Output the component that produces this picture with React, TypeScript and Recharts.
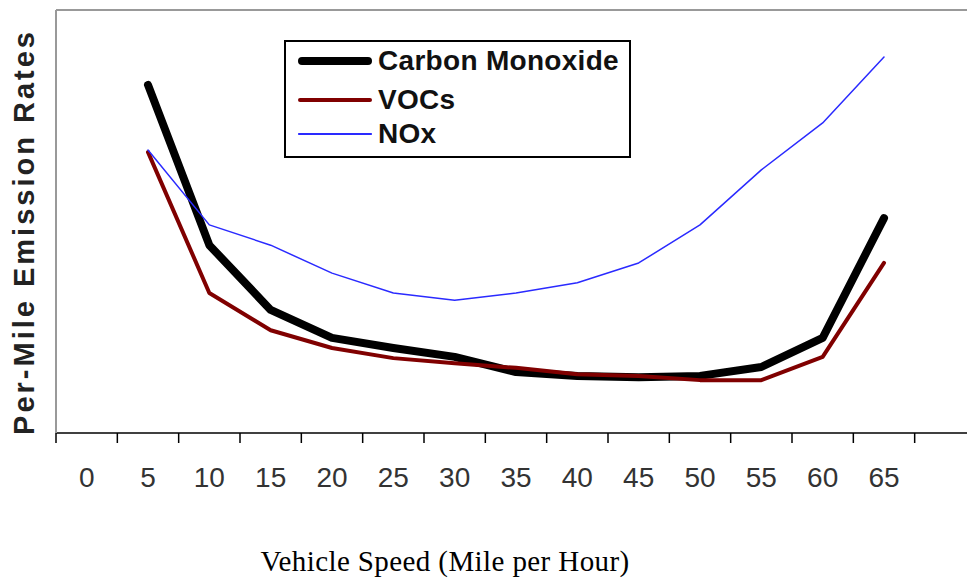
import React from 'react';
import { LineChart, Line, XAxis, YAxis, ReferenceLine } from 'recharts';

// speeds (mph) on the category axis, last slot left empty
const speeds = ['0', '5', '10', '15', '20', '25', '30', '35', '40', '45', '50', '55', '60', '65', ''];

// relative per-mile emission rates (0-100 scale)
const carbonMonoxide = [null, 82.3, 44.4, 29.1, 22.5, 20.1, 18.0, 14.4, 13.5, 13.2, 13.5, 15.6, 22.5, 50.8, null];
const vocs = [null, 66.4, 33.1, 24.3, 20.1, 17.7, 16.5, 15.4, 13.9, 13.5, 12.5, 12.5, 18.0, 40.2, null];
const nox = [null, 66.9, 49.2, 44.4, 37.8, 33.1, 31.4, 33.1, 35.5, 40.2, 49.2, 62.2, 73.3, 88.9, null];

const seriesInfo = [
  { key: 'co', name: 'Carbon Monoxide', color: '#000000', width: 8 },
  { key: 'voc', name: 'VOCs', color: '#800000', width: 4 },
  { key: 'nox', name: 'NOx', color: '#2a2aff', width: 1.5 },
];

const data = speeds.map((s, i) => ({
  speed: s,
  co: carbonMonoxide[i],
  voc: vocs[i],
  nox: nox[i],
}));

const sans = '"Liberation Sans", Arial, sans-serif';
const plotWidth = 920;
const halfBand = plotWidth / speeds.length / 2;

// label centred in its slot, tick mark on the slot's left edge
const SpeedTick = (props: any) => {
  const { x, y, payload } = props;
  return (
    <g>
      <line x1={x - halfBand} x2={x - halfBand} y1={y - 34} y2={y - 24} stroke="#000" strokeWidth={1.5} />
      <text x={x} y={y} dy="0.71em" textAnchor="middle" fill="#333" fontSize={28} fontFamily={sans}>
        {payload.value}
      </text>
    </g>
  );
};

export default function App() {
  return (
    <div style={{ position: 'fixed', left: 0, top: 0, width: 967, height: 578, overflow: 'hidden', background: '#fff' }}>
      <LineChart width={976} height={578} data={data} margin={{ top: 10, right: 0, left: 0, bottom: 85 }}>
        <XAxis
          dataKey="speed"
          height={60}
          stroke="#000"
          strokeWidth={1.5}
          tickLine={false}
          tickSize={10}
          tickMargin={24}
          tick={<SpeedTick />}
          interval={0}
          padding={{ left: halfBand, right: halfBand }}
        />
        <YAxis width={56} domain={[0, 100]} tick={false} tickLine={false} stroke="#999" strokeWidth={2} />
        <ReferenceLine y={100} stroke="#999" strokeWidth={2} />
        {seriesInfo.map(s => (
          <Line
            key={s.key}
            type="linear"
            dataKey={s.key}
            name={s.name}
            stroke={s.color}
            strokeWidth={s.width}
            dot={false}
            activeDot={false}
            strokeLinecap="round"
            strokeLinejoin="round"
            isAnimationActive={false}
          />
        ))}
      </LineChart>

      {/* y axis title */}
      <div
        style={{
          position: 'absolute', left: 24, top: 232, transform: 'translate(-50%, -50%) rotate(-90deg)',
          whiteSpace: 'nowrap', fontFamily: sans, fontWeight: 'bold', fontSize: 29, letterSpacing: 3, color: '#222',
        }}
      >
        Per-Mile Emission Rates
      </div>

      {/* x axis title */}
      <div
        style={{
          position: 'absolute', left: 445, top: 561, transform: 'translate(-50%, -50%)', lineHeight: 1,
          whiteSpace: 'nowrap', fontFamily: '"Liberation Serif", "Times New Roman", serif', fontSize: 29,
          letterSpacing: 0.4, color: '#000',
        }}
      >
        Vehicle Speed (Mile per Hour)
      </div>

      {/* legend */}
      <div
        style={{
          position: 'absolute', left: 284, top: 40, width: 347, height: 118, border: '2px solid #000',
          boxSizing: 'border-box', background: '#fff',
        }}
      >
        {seriesInfo.map((s, i) => (
          <div key={s.key} style={{ position: 'absolute', left: 12, top: [19, 58, 92][i] - 18, height: 36, display: 'flex', alignItems: 'center' }}>
            <div style={{ width: 74, height: s.width, background: s.color, borderRadius: s.width / 2 }} />
            <span style={{ marginLeft: 6, fontFamily: sans, fontWeight: 'bold', fontSize: 28, letterSpacing: 0.3, color: '#111', lineHeight: 1 }}>{s.name}</span>
          </div>
        ))}
      </div>
    </div>
  );
}
